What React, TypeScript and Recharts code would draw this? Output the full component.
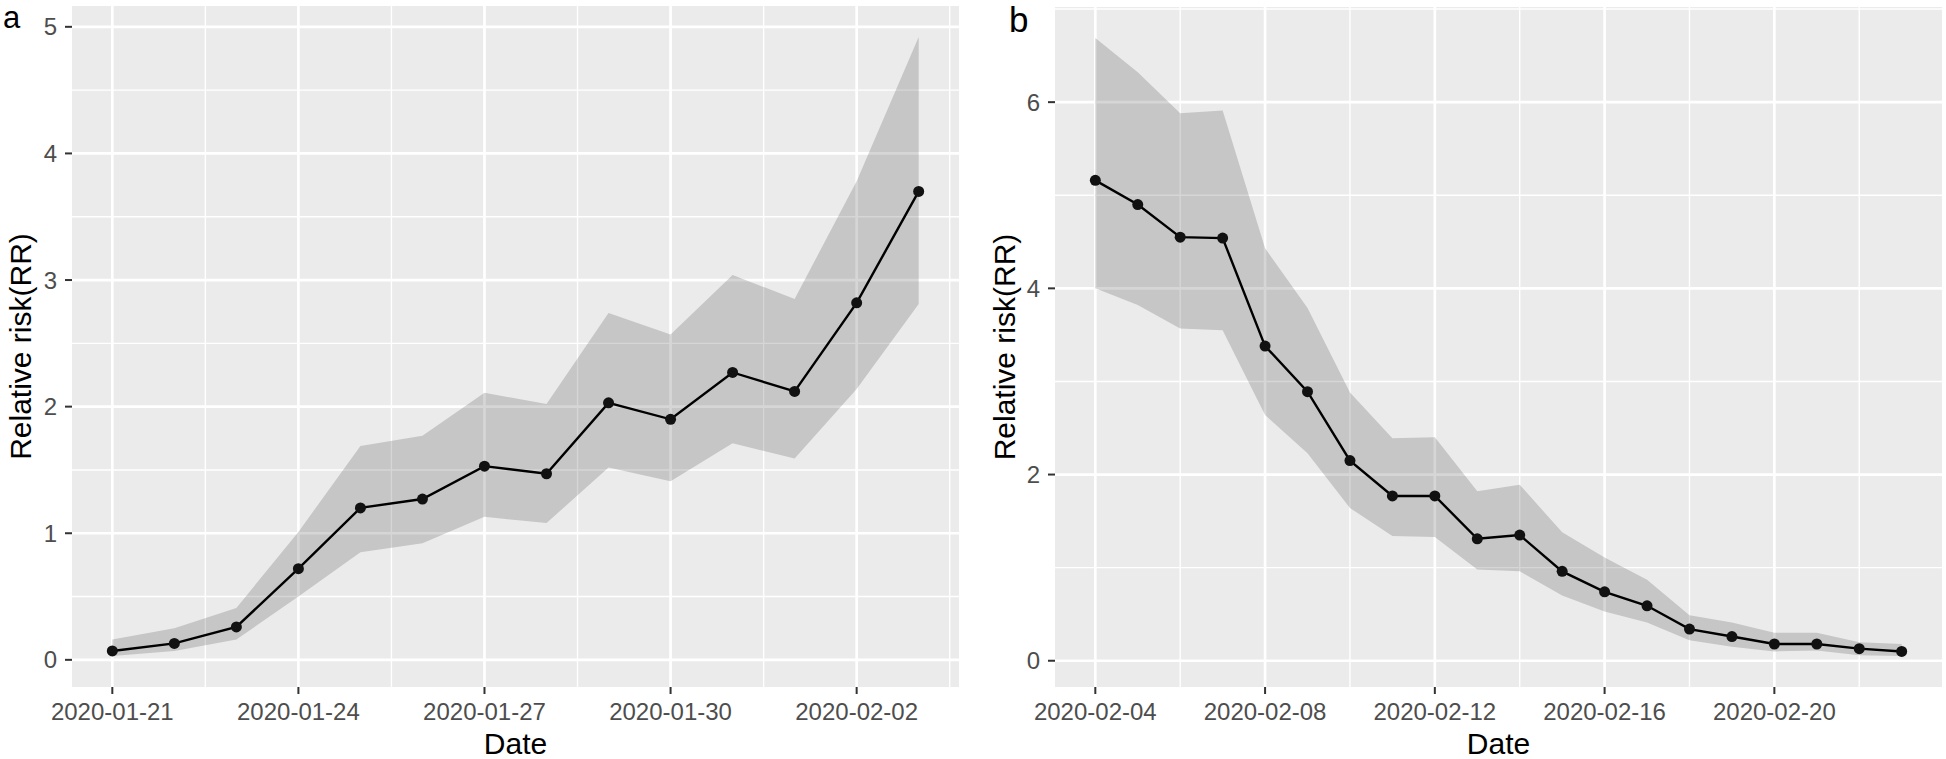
import React from 'react';
import { ComposedChart, Area, Line, XAxis, YAxis, CartesianGrid } from 'recharts';

// panel a: 2020-01-21 .. 2020-02-03
const datesA = [
  '2020-01-21', '2020-01-22', '2020-01-23', '2020-01-24', '2020-01-25', '2020-01-26', '2020-01-27',
  '2020-01-28', '2020-01-29', '2020-01-30', '2020-01-31', '2020-02-01', '2020-02-02', '2020-02-03',
];
const rrA = [0.07, 0.13, 0.26, 0.72, 1.2, 1.27, 1.53, 1.47, 2.03, 1.9, 2.27, 2.12, 2.82, 3.7];
const lowerA = [0.03, 0.07, 0.16, 0.5, 0.85, 0.92, 1.13, 1.08, 1.52, 1.41, 1.71, 1.59, 2.14, 2.81];
const upperA = [0.16, 0.25, 0.41, 1.01, 1.69, 1.77, 2.11, 2.02, 2.74, 2.57, 3.04, 2.85, 3.78, 4.92];
const xTickLabelsA = ['2020-01-21', '2020-01-24', '2020-01-27', '2020-01-30', '2020-02-02'];
const yTicksA = [0, 1, 2, 3, 4, 5];

// panel b: 2020-02-04 .. 2020-02-23
const datesB = [
  '2020-02-04', '2020-02-05', '2020-02-06', '2020-02-07', '2020-02-08', '2020-02-09', '2020-02-10',
  '2020-02-11', '2020-02-12', '2020-02-13', '2020-02-14', '2020-02-15', '2020-02-16', '2020-02-17',
  '2020-02-18', '2020-02-19', '2020-02-20', '2020-02-21', '2020-02-22', '2020-02-23',
];
const rrB = [5.16, 4.9, 4.55, 4.54, 3.38, 2.89, 2.15, 1.77, 1.77, 1.31, 1.35, 0.96, 0.74, 0.59, 0.34, 0.26, 0.18, 0.18, 0.13, 0.1];
const lowerB = [4.0, 3.82, 3.57, 3.55, 2.64, 2.23, 1.64, 1.34, 1.33, 0.98, 0.96, 0.7, 0.53, 0.41, 0.22, 0.15, 0.1, 0.11, 0.06, 0.05];
const upperB = [6.69, 6.32, 5.88, 5.91, 4.43, 3.79, 2.88, 2.39, 2.4, 1.82, 1.89, 1.38, 1.11, 0.87, 0.49, 0.41, 0.3, 0.3, 0.2, 0.18];
const xTickLabelsB = ['2020-02-04', '2020-02-08', '2020-02-12', '2020-02-16', '2020-02-20'];
const yTicksB = [0, 2, 4, 6];

const FONT = '"Liberation Sans", Arial, Helvetica, sans-serif';

type PanelProps = {
  dates: string[];
  rr: number[];
  lower: number[];
  upper: number[];
  xTickLabels: string[];
  yTicks: number[];
  left: number;
  marginTop: number;
  marginRight: number;
  yAxisWidth: number;
  yLabelOffset: number;
};

function Panel({ dates, rr, lower, upper, xTickLabels, yTicks, left, marginTop, marginRight, yAxisWidth, yLabelOffset }: PanelProps) {
  const data = dates.map((d, i) => ({ day: i, rr: rr[i], band: [lower[i], upper[i]] }));

  // ggplot-style 5% expansion
  const n = dates.length - 1;
  const xDomain = [-0.05 * n, n * 1.05];
  const yMin = Math.min(...lower);
  const yMax = Math.max(...upper);
  const pad = (yMax - yMin) * 0.05;
  const yDomain = [yMin - pad, yMax + pad];

  const xTicks = xTickLabels.map((t) => dates.indexOf(t));
  const step = xTicks[1] - xTicks[0];
  const xMinor = xTicks.map((t) => t + step / 2).filter((v) => v < xDomain[1]);
  const yStep = yTicks[1] - yTicks[0];
  const yMinor = yTicks.map((t) => t + yStep / 2).filter((v) => v < yDomain[1]);

  const tickStyle = { fill: '#4D4D4D', fontSize: 24, fontFamily: FONT };
  const tickLine = { stroke: '#333333', strokeWidth: 2 };

  return (
    <div style={{ position: 'absolute', left, top: 0 }}>
      <ComposedChart
        width={973}
        height={759}
        data={data}
        margin={{ top: marginTop, right: marginRight, bottom: 0, left: 0 }}
      >
        <CartesianGrid fill="#EBEBEB" stroke="#FFFFFF" strokeWidth={1.4} horizontalValues={yMinor} verticalValues={xMinor} />
        <CartesianGrid stroke="#FFFFFF" strokeWidth={2.7} horizontalValues={yTicks} verticalValues={xTicks} />
        <XAxis
          dataKey="day"
          type="number"
          domain={xDomain}
          allowDataOverflow
          ticks={xTicks}
          interval={0}
          tickFormatter={(v: number) => dates[v]}
          axisLine={false}
          tickLine={tickLine}
          tickSize={7}
          tickMargin={9}
          tick={tickStyle}
          height={72}
          label={{ value: 'Date', position: 'insideBottom', offset: 5, style: { fill: '#000', fontSize: 30, fontFamily: FONT } }}
        />
        <YAxis
          type="number"
          domain={yDomain}
          allowDataOverflow
          ticks={yTicks}
          interval={0}
          axisLine={false}
          tickLine={tickLine}
          tickSize={7}
          tickMargin={8}
          tick={tickStyle}
          width={yAxisWidth}
          label={{
            value: 'Relative risk(RR)',
            angle: -90,
            position: 'insideLeft',
            offset: yLabelOffset,
            style: { textAnchor: 'middle', fill: '#000', fontSize: 30, fontFamily: FONT },
          }}
        />
        <Area
          dataKey="band"
          type="linear"
          stroke="none"
          fill="#333333"
          fillOpacity={0.2}
          activeDot={false}
          isAnimationActive={false}
        />
        <Line
          dataKey="rr"
          type="linear"
          stroke="#000000"
          strokeWidth={2.4}
          dot={{ r: 5.5, fill: '#111111', stroke: 'none' }}
          activeDot={false}
          isAnimationActive={false}
        />
      </ComposedChart>
    </div>
  );
}

export default function App() {
  return (
    <div style={{ position: 'absolute', left: 0, top: 0, width: 1946, height: 759, background: '#fff', overflow: 'hidden' }}>
      <Panel
        dates={datesA}
        rr={rrA}
        lower={lowerA}
        upper={upperA}
        xTickLabels={xTickLabelsA}
        yTicks={yTicksA}
        left={0}
        marginTop={6}
        marginRight={14}
        yAxisWidth={72}
        yLabelOffset={20}
      />
      <Panel
        dates={datesB}
        rr={rrB}
        lower={lowerB}
        upper={upperB}
        xTickLabels={xTickLabelsB}
        yTicks={yTicksB}
        left={973}
        marginTop={7}
        marginRight={4}
        yAxisWidth={82}
        yLabelOffset={31}
      />
      <svg width={1946} height={759} style={{ position: 'absolute', left: 0, top: 0, pointerEvents: 'none' }}>
        <text x={3} y={28} fontSize={31} fontFamily={FONT} fill="#000">a</text>
        <text x={1009} y={32} fontSize={35} fontFamily={FONT} fill="#000">b</text>
      </svg>
    </div>
  );
}
